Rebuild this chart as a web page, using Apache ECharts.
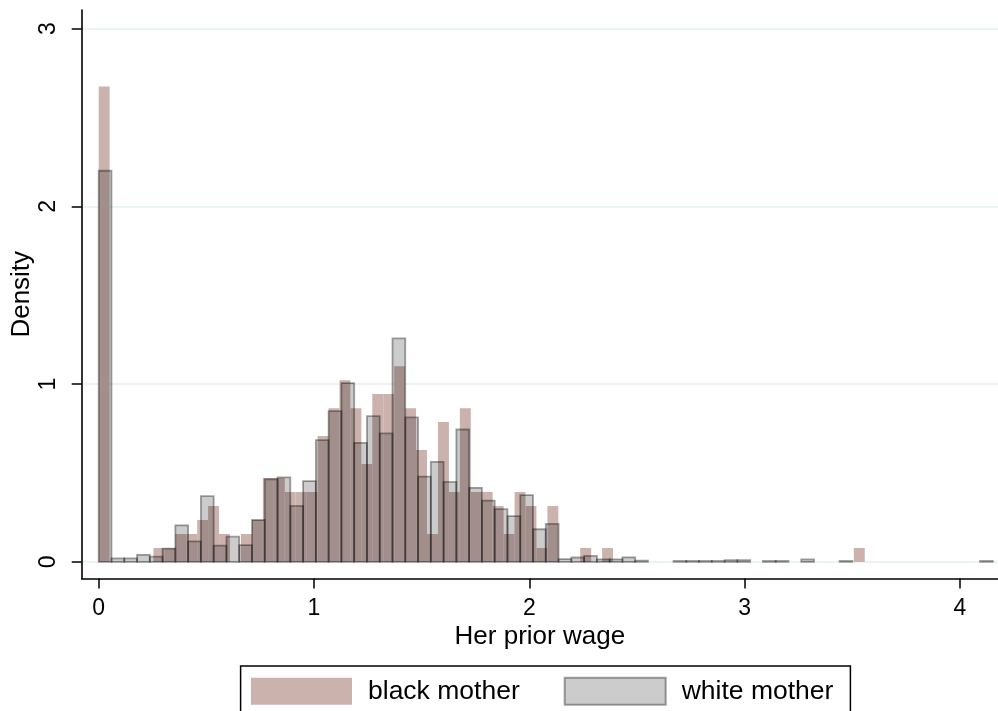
<!DOCTYPE html>
<html>
<head>
<meta charset="utf-8">
<script src="https://cdn.jsdelivr.net/npm/echarts@6/dist/echarts.min.js"></script>
<style>
  html, body { margin: 0; padding: 0; background: #fff; }
  #chart { width: 998px; height: 711px; }
</style>
</head>
<body>
<div id="chart"></div>
<script>
// Histogram of prior wage by mother's race: 70 bins each, both starting at 0
const blackBinWidth = 0.05083;
const whiteBinWidth = 0.05933;

// Density per bin, black mothers
const blackDensity = [
  2.674, 0, 0, 0, 0, 0.079, 0.079, 0.157, 0.157, 0.236,
  0.315, 0.157, 0, 0.157, 0.236, 0.472, 0.472, 0.393, 0.393, 0.393,
  0.708, 0.865, 1.022, 0.865, 0.551, 0.944, 0.944, 1.101, 0.865, 0.629,
  0.157, 0.787, 0.393, 0.865, 0.393, 0.393, 0.315, 0.157, 0.393, 0.315,
  0.079, 0.315, 0, 0, 0.079, 0, 0.079, 0, 0, 0,
  0, 0, 0, 0, 0, 0, 0, 0, 0, 0,
  0, 0, 0, 0, 0, 0, 0, 0, 0, 0.079
];

// Density per bin, white mothers
const whiteDensity = [
  2.20, 0.02, 0.02, 0.04, 0.03, 0.075, 0.206, 0.116, 0.37, 0.092,
  0.142, 0.095, 0.236, 0.465, 0.476, 0.315, 0.455, 0.685, 0.848, 1.006,
  0.67, 0.82, 0.723, 1.257, 0.813, 0.48, 0.563, 0.45, 0.745, 0.417,
  0.345, 0.297, 0.258, 0.376, 0.184, 0.214, 0.016, 0.025, 0.034, 0.015,
  0.015, 0.026, 0.008, 0, 0, 0.006, 0.006, 0.006, 0.006, 0.01,
  0.01, 0, 0.006, 0.006, 0, 0.014, 0, 0, 0.006, 0,
  0, 0, 0, 0, 0, 0, 0, 0, 0, 0.006
];

const seriesNames = ['black mother', 'white mother'];
const xTickValues = [0, 1, 2, 3, 4];
const yTickValues = [0, 1, 2, 3];

const FONT = '"Liberation Sans", Arial, Helvetica, sans-serif';

// Turn bin heights into [start, end, density] rows, skipping empty bins
function binRows(heights, width) {
  const rows = [];
  heights.forEach(function (h, i) {
    if (h > 0) rows.push([i * width, (i + 1) * width, h]);
  });
  return rows;
}

function renderBin(params, api) {
  const topLeft = api.coord([api.value(0), api.value(2)]);
  const bottomRight = api.coord([api.value(1), 0]);
  return {
    type: 'rect',
    shape: {
      x: topLeft[0],
      y: topLeft[1],
      width: bottomRight[0] - topLeft[0],
      height: bottomRight[1] - topLeft[1]
    },
    style: api.style()
  };
}

const chart = echarts.init(document.getElementById('chart'), null, { renderer: 'canvas' });

const option = {
  animation: false,
  backgroundColor: '#ffffff',
  textStyle: { fontFamily: FONT, color: '#000' },
  grid: {
    left: 81.7, right: 0, top: 10, bottom: 132.5,
    containLabel: false,
    outerBoundsMode: 'none'
  },
  xAxis: {
    type: 'value',
    min: -0.079,
    max: 4.177,
    name: 'Her prior wage',
    nameLocation: 'middle',
    nameGap: 45,
    nameMoveOverlap: false,
    nameTextStyle: { fontSize: 26, color: '#000', fontFamily: FONT },
    axisLine: { show: true, onZero: false, lineStyle: { color: '#000', width: 1.6 } },
    axisTick: { show: true, length: 10, customValues: xTickValues, lineStyle: { color: '#000', width: 1.5 } },
    axisLabel: { customValues: xTickValues, fontSize: 23, color: '#000', margin: 19, fontFamily: FONT },
    splitLine: { show: false }
  },
  yAxis: {
    type: 'value',
    min: -0.093,
    max: 3.104,
    name: 'Density',
    nameLocation: 'middle',
    nameRotate: 90,
    nameGap: 47,
    nameMoveOverlap: false,
    nameTextStyle: { fontSize: 26, color: '#000', fontFamily: FONT },
    axisLine: { show: true, onZero: false, lineStyle: { color: '#000', width: 1.6 } },
    axisTick: { show: true, length: 10, customValues: yTickValues, lineStyle: { color: '#000', width: 1.5 } },
    axisLabel: { customValues: yTickValues, rotate: 90, fontSize: 23, color: '#000', margin: 22, fontFamily: FONT },
    splitLine: { show: true, lineStyle: { color: '#e6eff2', width: 1.5 } }
  },
  legend: {
    data: seriesNames,
    left: 240.6,
    top: 666,
    orient: 'horizontal',
    padding: [10.7, 17, 10, 10.4],
    borderColor: '#000',
    borderWidth: 1.5,
    borderRadius: 0,
    backgroundColor: '#fff',
    itemWidth: 101,
    itemHeight: 27,
    itemGap: 44,
    icon: 'rect',
    textStyle: { fontSize: 26.5, color: '#000', fontFamily: FONT, padding: [0, 0, 0, 11] }
  },
  series: [
    {
      type: 'custom',
      name: seriesNames[0],
      renderItem: renderBin,
      data: binRows(blackDensity, blackBinWidth),
      encode: { x: [0, 1], y: 2 },
      itemStyle: { color: 'rgb(203,178,173)', borderWidth: 0 },
      clip: true,
      z: 2
    },
    {
      type: 'custom',
      name: seriesNames[1],
      renderItem: renderBin,
      data: binRows(whiteDensity, whiteBinWidth),
      encode: { x: [0, 1], y: 2 },
      itemStyle: { color: 'rgba(0,0,0,0.2)', borderColor: 'rgba(0,0,0,0.36)', borderWidth: 1.8 },
      clip: true,
      z: 3
    }
  ]
};

chart.setOption(option);
</script>
</body>
</html>
